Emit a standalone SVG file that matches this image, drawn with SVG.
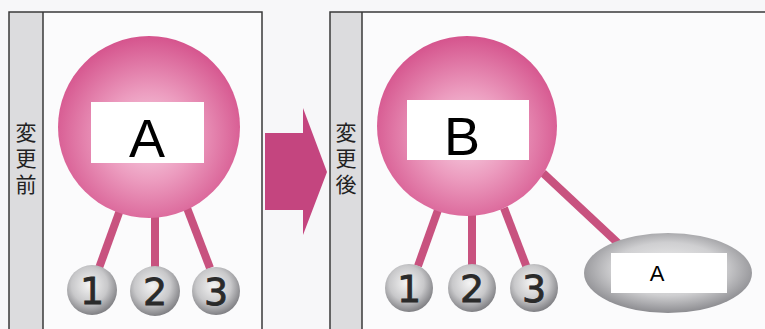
<svg xmlns="http://www.w3.org/2000/svg" width="765" height="329" viewBox="0 0 765 329">
<style>
.frame{fill:none;stroke:#3a3a3a;stroke-width:1.5}
.strip{fill:#dcdcde}
.side{font-family:"Noto Sans CJK JP","Noto Sans CJK SC",sans-serif;font-size:21px;fill:#222;writing-mode:vertical-rl;letter-spacing:5px}
.conn{stroke:#c8527f;stroke-width:8;stroke-linecap:butt;fill:none}
.big{fill:url(#pink)}
.ball{fill:url(#gray)}
.num{font-family:"DejaVu Sans",sans-serif;font-size:38px;fill:#2a2a2a;text-anchor:middle;stroke:#2a2a2a;stroke-width:0.8}
.lab{fill:#fff}
.bigtxt{font-family:"Liberation Sans",Arial,sans-serif;font-size:54px;fill:#000;text-anchor:middle}
.smtxt{font-family:"Liberation Sans",Arial,sans-serif;font-size:22px;fill:#000;text-anchor:middle}
</style>
<defs>
<radialGradient id="pink" cx="0.5" cy="0.55" r="0.55">
<stop offset="0" stop-color="#f7d3e3"/>
<stop offset="0.45" stop-color="#ec9cbf"/>
<stop offset="1" stop-color="#d5548d"/>
</radialGradient>
<radialGradient id="gray" cx="0.45" cy="0.4" r="0.6">
<stop offset="0" stop-color="#f4f4f4"/>
<stop offset="0.6" stop-color="#c8c8ca"/>
<stop offset="1" stop-color="#808084"/>
</radialGradient>
<radialGradient id="gray2" cx="0.5" cy="0.45" r="0.55">
<stop offset="0" stop-color="#f2f2f2"/>
<stop offset="0.6" stop-color="#cfcfd1"/>
<stop offset="1" stop-color="#8c8c90"/>
</radialGradient>
</defs>
<rect width="765" height="329" fill="#f7f7f9"/>
<g id="panel-before">
<rect x="9" y="12" width="253" height="330" fill="#fbfbfc"/>
<rect class="strip" x="9" y="12" width="34" height="330"/>
<path class="frame" d="M9,340 V12 H262 V340 M43,12 V340"/>
<text class="side" x="26" y="122">変更前</text>
</g>
<g id="panel-after">
<rect x="330" y="12" width="440" height="330" fill="#fbfbfc"/>
<rect class="strip" x="330" y="12" width="32" height="330"/>
<path class="frame" d="M330,340 V12 H770 M362,12 V340"/>
<text class="side" x="346" y="122">変更後</text>
</g>
<g id="arrow">
<polygon points="265,133 303,133 303,108 327,172 303,235 303,210 265,210" fill="#c4457f"/>
</g>
<g id="connectors">
<line class="conn" x1="120" y1="210" x2="99" y2="268"/>
<line class="conn" x1="155" y1="214" x2="155" y2="267"/>
<line class="conn" x1="187" y1="208" x2="210" y2="268"/>
<line class="conn" x1="438" y1="210" x2="418" y2="266"/>
<line class="conn" x1="472" y1="214" x2="472" y2="266"/>
<line class="conn" x1="504" y1="208" x2="527" y2="268"/>
<line class="conn" x1="543" y1="173" x2="620" y2="245"/>
</g>
<g id="node-A">
<circle class="big" cx="149" cy="127" r="91"/>
<rect class="lab" x="91" y="102" width="113" height="61"/>
<text class="bigtxt" x="147" y="157">A</text>
</g>
<g id="node-1a"><circle class="ball" cx="92" cy="290" r="25"/><text class="num" x="92" y="304">1</text></g>
<g id="node-2a"><circle class="ball" cx="155" cy="291" r="25"/><text class="num" x="155" y="305">2</text></g>
<g id="node-3a"><circle class="ball" cx="216" cy="291" r="24"/><text class="num" x="216" y="305">3</text></g>
<g id="node-B">
<circle class="big" cx="467" cy="126" r="90"/>
<rect class="lab" x="407" y="100" width="122" height="60"/>
<text class="bigtxt" x="462" y="155">B</text>
</g>
<g id="node-1b"><circle class="ball" cx="409" cy="288" r="24"/><text class="num" x="409" y="302">1</text></g>
<g id="node-2b"><circle class="ball" cx="472" cy="288" r="24"/><text class="num" x="472" y="302">2</text></g>
<g id="node-3b"><circle class="ball" cx="534" cy="288" r="24"/><text class="num" x="534" y="302">3</text></g>
<g id="node-A2">
<ellipse cx="668" cy="273" rx="84" ry="40" fill="url(#gray2)"/>
<rect class="lab" x="611" y="253" width="116" height="40"/>
<text class="smtxt" x="657" y="281">A</text>
</g>
</svg>
